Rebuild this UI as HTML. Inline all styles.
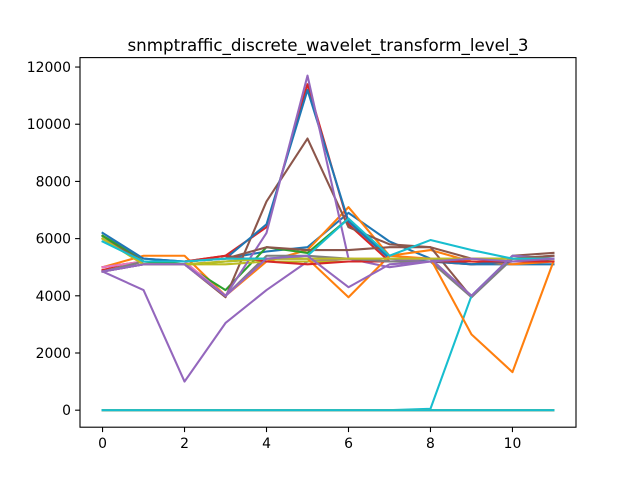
<!DOCTYPE html>
<html><head><meta charset="utf-8"><style>
body{margin:0;background:#fff}svg{display:block}
text{font-family:"DejaVu Sans","Liberation Sans",sans-serif;fill:#000}
</style></head><body>
<svg id="chart" width="640" height="480">
<rect width="640" height="480" fill="#fff"/>
<text x="328" y="51" font-size="16.7" text-anchor="middle">snmptraffic_discrete_wavelet_transform_level_3</text>
<g id="plot"></g>
<g id="axes"></g>
</svg>
<script>
const xCategories=[0,1,2,3,4,5,6,7,8,9,10,11];
const xTicks=[0,2,4,6,8,10];
const yTicks=[0,2000,4000,6000,8000,10000,12000];
const s01=[6200,5300,5200,5300,5550,5700,6900,5900,5300,5100,5100,5100];
const s02=[5000,5400,5400,4000,5200,5600,7100,5400,5600,5200,5100,5200];
const s03=[6100,5200,5100,4200,5700,5500,6700,5300,5300,4000,5300,5200];
const s04=[4900,5200,5200,5400,6400,11400,6500,5200,5200,5100,5200,5200];
const s05=[4850,4200,1000,3050,4200,5200,5300,5000,5200,5300,5200,5300];
const s06=[4850,5100,5100,3950,7300,9500,6400,5800,5700,3950,5400,5500];
const s07=[4850,5200,5200,4000,5300,5300,5300,5200,5200,4000,5300,5300];
const s08=[4850,5100,5100,4000,5400,5400,5300,5200,5200,3950,5300,5400];
const s09=[6000,5100,5100,5100,5200,5200,5200,5200,5200,5200,5200,5200];
const s10=[0,0,0,0,0,0,0,0,50,4000,5400,5300];
const s11=[6100,5300,5200,5300,6500,11200,6600,5300,5200,5100,5200,5200];
const s12=[6100,5200,5200,5300,5300,5300,3950,5400,5300,2650,1330,5200];
const s13=[6100,5200,5100,5200,5300,5300,5300,5200,5200,5200,5200,5200];
const s14=[5000,5200,5200,5400,5200,5100,5200,5200,5200,5200,5200,5200];
const s15=[4850,5100,5100,4000,6200,11700,5300,5200,5300,4000,5400,5300];
const s16=[6000,5200,5200,5300,5700,5600,5600,5700,5700,5300,5300,5400];
const s17=[5000,5200,5200,5300,5300,5300,5300,5300,5300,5300,5300,5300];
const s18=[4850,5200,5200,5300,5300,5300,5300,5200,5200,5300,5300,5300];
const s19=[6000,5100,5100,5200,5300,5300,5300,5300,5300,5300,5300,5300];
const s20=[5900,5200,5200,5300,5300,5400,6700,5400,5950,5600,5300,5300];
const s21=[0,0,0,0,0,0,0,0,0,0,0,0];
const s22=[0,0,0,0,0,0,0,0,0,0,0,0];
const s23=[0,0,0,0,0,0,0,0,0,0,0,0];
const s24=[0,0,0,0,0,0,0,0,0,0,0,0];
const s25=[4850,5100,5100,4000,5300,5400,4300,5100,5200,5300,5200,5300];
const s26=[0,0,0,0,0,0,0,0,0,0,0,0];
const s27=[0,0,0,0,0,0,0,0,0,0,0,0];
const s28=[0,0,0,0,0,0,0,0,0,0,0,0];
const s29=[0,0,0,0,0,0,0,0,0,0,0,0];
const s30=[0,0,0,0,0,0,0,0,0,0,0,0];
const series=[s01,s02,s03,s04,s05,s06,s07,s08,s09,s10,s11,s12,s13,s14,s15,s16,s17,s18,s19,s20,s21,s22,s23,s24,s25,s26,s27,s28,s29,s30];
const colors=["#1f77b4","#ff7f0e","#2ca02c","#d62728","#9467bd","#8c564b","#e377c2","#7f7f7f","#bcbd22","#17becf"];
const L=80,R=576,T=57.6,B=427.2;
const xMin=-0.55,xMax=11.55,yMin=-595,yMax=12330;
const xs=v=>L+(v-xMin)/(xMax-xMin)*(R-L);
const ys=v=>B-(v-yMin)/(yMax-yMin)*(B-T);
const NS="http://www.w3.org/2000/svg";
const plot=document.getElementById('plot');
series.forEach((s,i)=>{
  const p=document.createElementNS(NS,'polyline');
  p.setAttribute('points',s.map((v,j)=>xs(xCategories[j])+','+ys(v)).join(' '));
  p.setAttribute('fill','none');
  p.setAttribute('stroke',colors[i%10]);
  p.setAttribute('stroke-width','2.08');
  p.setAttribute('stroke-linecap','square');
  p.setAttribute('stroke-linejoin','round');
  
  
  plot.appendChild(p);
});
const ax=document.getElementById('axes');
const fr=document.createElementNS(NS,'rect');
fr.setAttribute('x',L);fr.setAttribute('y',T);fr.setAttribute('width',R-L);fr.setAttribute('height',B-T);
fr.setAttribute('fill','none');fr.setAttribute('stroke','#000');fr.setAttribute('stroke-width','1.1');


ax.appendChild(fr);
xTicks.forEach(t=>{
  const x=xs(t);
  const l=document.createElementNS(NS,'line');
  l.setAttribute('x1',x);l.setAttribute('x2',x);l.setAttribute('y1',B);l.setAttribute('y2',B+4.9);
  l.setAttribute('stroke','#000');l.setAttribute('stroke-width','1.1');
  
  
  ax.appendChild(l);
  const tx=document.createElementNS(NS,'text');
  tx.setAttribute('x',x);tx.setAttribute('y',B+21);tx.setAttribute('font-size','13.9');tx.setAttribute('text-anchor','middle');
  tx.textContent=t;
  
  
  ax.appendChild(tx);
});
yTicks.forEach(t=>{
  const y=ys(t);
  const l=document.createElementNS(NS,'line');
  l.setAttribute('x1',L-4.9);l.setAttribute('x2',L);l.setAttribute('y1',y);l.setAttribute('y2',y);
  l.setAttribute('stroke','#000');l.setAttribute('stroke-width','1.1');
  
  
  ax.appendChild(l);
  const tx=document.createElementNS(NS,'text');
  tx.setAttribute('x',L-9);tx.setAttribute('y',y+5);tx.setAttribute('font-size','13.9');tx.setAttribute('text-anchor','end');
  tx.textContent=t;
  
  
  ax.appendChild(tx);
});
</script>
</body></html>
